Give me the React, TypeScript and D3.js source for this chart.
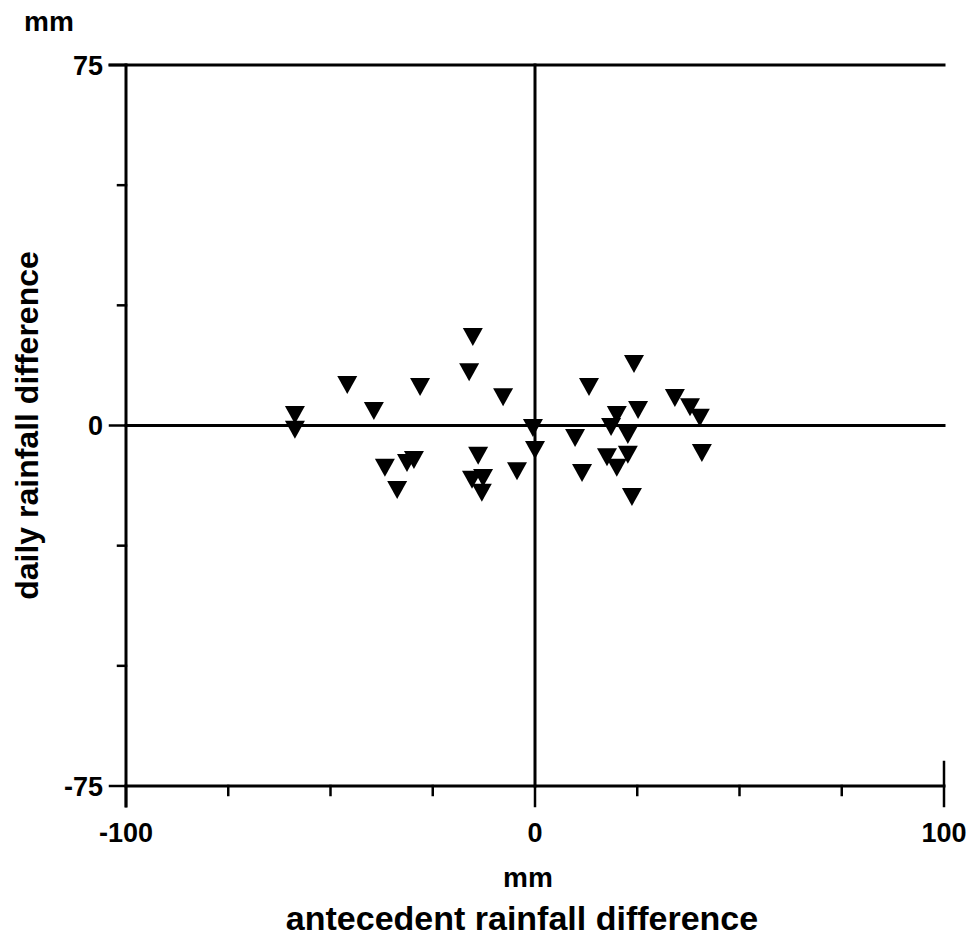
import React, { useEffect, useRef } from 'react';
import * as d3 from 'd3';

// antecedent rainfall difference (mm) vs daily rainfall difference (mm)
const antecedent = [
  -15.2, -16.1, -45.9, -28.1, -7.8, -58.7, -39.4, -58.7, -0.5, 0.0,
  -13.9, -36.7, -31.3, -29.6, -4.4, -33.7, -15.4, -12.7, -13.0,
  24.2, 13.2, 34.2, 37.9, 25.2, 20.0, 40.3, 18.6, 9.8, 22.7, 40.8,
  17.6, 20.0, 22.7, 11.5, 23.7,
];
const daily = [
  18.4, 11.1, 8.4, 8.0, 5.9, 2.2, 3.0, -0.9, -0.5, -5.1,
  -6.3, -8.8, -7.8, -7.2, -9.5, -13.4, -11.3, -10.9, -14.0,
  12.8, 8.0, 5.7, 3.8, 3.2, 2.2, 1.6, -0.3, -2.6, -2.0, -5.7,
  -6.6, -8.8, -6.1, -9.9, -14.9,
];

const xTicks = [-100, -75, -50, -25, 0, 25, 50, 75, 100];
const xTickLabels = [-100, 0, 100];
const yTicks = [-75, -50, -25, 0, 25, 50, 75];
const yTickLabels = [-75, 0, 75];

const FONT = '"Liberation Sans", Arial, Helvetica, sans-serif';

// downward triangle, centred on its bounding box
const triangleDown = {
  draw(ctx: any, size: number) {
    const w = Math.sqrt(size);
    const h = w * 0.9;
    ctx.moveTo(-w / 2, -h / 2);
    ctx.lineTo(w / 2, -h / 2);
    ctx.lineTo(0, h / 2);
    ctx.closePath();
  },
};

function App() {
  const ref = useRef<SVGSVGElement | null>(null);

  useEffect(() => {
    if (!ref.current) return;
    const svg = d3.select(ref.current);
    svg.selectAll('*').remove();

    const x = d3.scaleLinear().domain([-100, 100]).range([126, 944]);
    const y = d3.scaleLinear().domain([-75, 75]).range([786, 65]);
    const lw = 3;

    const g = svg.append('g').attr('stroke', '#000').attr('stroke-width', lw).attr('stroke-linecap', 'square');

    // frame: left, top, bottom
    g.append('line').attr('x1', x(-100)).attr('x2', x(-100)).attr('y1', y(75)).attr('y2', y(-75) + 20);
    g.append('line').attr('x1', x(-100) - 16).attr('x2', x(100)).attr('y1', y(75)).attr('y2', y(75));
    g.append('line').attr('x1', x(-100)).attr('x2', x(100)).attr('y1', y(-75)).attr('y2', y(-75));

    // zero lines
    g.append('line').attr('x1', x(0)).attr('x2', x(0)).attr('y1', y(75)).attr('y2', y(-75));
    g.append('line').attr('x1', x(-100)).attr('x2', x(100)).attr('y1', y(0)).attr('y2', y(0));

    // x ticks
    g.selectAll('.xt')
      .data(xTicks)
      .enter()
      .append('line')
      .attr('stroke-width', 2.5)
      .attr('x1', d => x(d))
      .attr('x2', d => x(d))
      .attr('y1', d => (d === 100 ? y(-75) - 24 : y(-75)))
      .attr('y2', d => y(-75) + (xTickLabels.includes(d) ? 20 : 9));

    // y ticks
    g.selectAll('.yt')
      .data(yTicks)
      .enter()
      .append('line')
      .attr('stroke-width', 2.5)
      .attr('x1', d => x(-100) - (yTickLabels.includes(d) ? 16 : 8))
      .attr('x2', x(-100))
      .attr('y1', d => y(d))
      .attr('y2', d => y(d));

    const txt = svg.append('g').attr('font-family', FONT).attr('font-weight', 'bold').attr('fill', '#000');

    txt.selectAll('.xl')
      .data(xTickLabels)
      .enter()
      .append('text')
      .attr('x', d => x(d))
      .attr('y', 842)
      .attr('text-anchor', 'middle')
      .attr('font-size', 27)
      .text(d => String(d));

    txt.selectAll('.yl')
      .data(yTickLabels)
      .enter()
      .append('text')
      .attr('x', 103)
      .attr('y', d => y(d) + 9.5)
      .attr('text-anchor', 'end')
      .attr('font-size', 27)
      .text(d => String(d));

    txt.append('text').attr('x', 24).attr('y', 31).attr('font-size', 28).text('mm');
    txt.append('text').attr('x', x(0) - 7).attr('y', 887).attr('text-anchor', 'middle').attr('font-size', 28).text('mm');
    txt.append('text')
      .attr('x', 522)
      .attr('y', 930)
      .attr('text-anchor', 'middle')
      .attr('font-size', 34)
      .text('antecedent rainfall difference');
    txt.append('text')
      .attr('transform', `translate(38,${y(0)}) rotate(-90)`)
      .attr('text-anchor', 'middle')
      .attr('font-size', 32)
      .text('daily rainfall difference');

    const sym = d3.symbol().type(triangleDown as any).size(20 * 20);
    svg.append('g')
      .selectAll('path')
      .data(antecedent.map((a, i) => [a, daily[i]]))
      .enter()
      .append('path')
      .attr('transform', d => `translate(${x(d[0])},${y(d[1])})`)
      .attr('d', sym)
      .attr('fill', '#000');
  }, []);

  return (
    <svg
      ref={ref}
      width={971}
      height={944}
      style={{ position: 'absolute', left: 0, top: 0, background: '#fff' }}
      aria-label="daily vs antecedent rainfall difference"
    />
  );
}

export default App;
